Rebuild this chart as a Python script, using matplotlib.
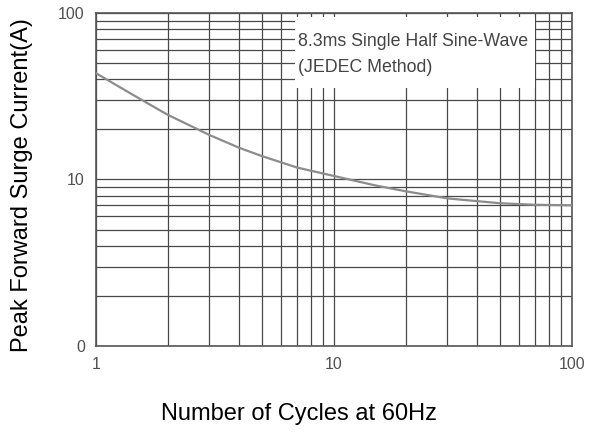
import matplotlib.pyplot as plt
from matplotlib.patches import Rectangle
from matplotlib.ticker import FixedLocator, FixedFormatter, NullFormatter

plt.rcParams['font.family'] = ['Liberation Sans', 'DejaVu Sans']

# surge current curve
cycles = [1, 1.5, 2, 3, 4, 5, 7, 10, 15, 20, 30, 50, 70, 100]
current = [43.5, 31, 24.5, 18.5, 15.5, 13.8, 11.8, 10.5, 9.2, 8.5, 7.7, 7.2, 7.05, 7.0]

x_ticks = [1, 10, 100]
x_labels = ['1', '10', '100']
y_ticks = [1, 10, 100]
y_labels = ['0', '10', '100']

fig = plt.figure(figsize=(5.92, 4.32), dpi=100)
ax = fig.add_axes([0.162, 0.199, 0.804, 0.771])
ax.set_xscale('log')
ax.set_yscale('log')
ax.set_xlim(1, 100)
ax.set_ylim(1, 100)

ax.plot(cycles, current, color='#8c8c8c', lw=1.6, zorder=3)

ax.xaxis.set_major_locator(FixedLocator(x_ticks))
ax.xaxis.set_major_formatter(FixedFormatter(x_labels))
ax.yaxis.set_major_locator(FixedLocator(y_ticks))
ax.yaxis.set_major_formatter(FixedFormatter(y_labels))
ax.xaxis.set_minor_formatter(NullFormatter())
ax.yaxis.set_minor_formatter(NullFormatter())
ax.grid(True, which='both', color='#484848', lw=0.9)
ax.tick_params(which='both', length=0, labelsize=11.5, labelcolor='#505050')
ax.tick_params(axis='x', pad=8)
ax.tick_params(axis='y', pad=8)
for s in ax.spines.values():
    s.set_color('#555555')
    s.set_linewidth(1.2)

# white label box covering the grid
ax.add_patch(Rectangle((0.418, 0.775), 0.504, 0.213, transform=ax.transAxes,
                       facecolor='white', edgecolor='none', zorder=4))
ax.text(0.424, 0.875, '8.3ms Single Half Sine-Wave\n(JEDEC Method)',
        transform=ax.transAxes, ha='left', va='center', fontsize=12.8,
        color='#444444', linespacing=1.7, zorder=5)

ax.set_xlabel('Number of Cycles at 60Hz', fontsize=17)
ax.xaxis.set_label_coords(0.426, -0.171)
ax.set_ylabel('Peak Forward Surge Current(A)', fontsize=17)
ax.yaxis.set_label_coords(-0.132, 0.483)

fig.savefig('out.png', dpi=100)
